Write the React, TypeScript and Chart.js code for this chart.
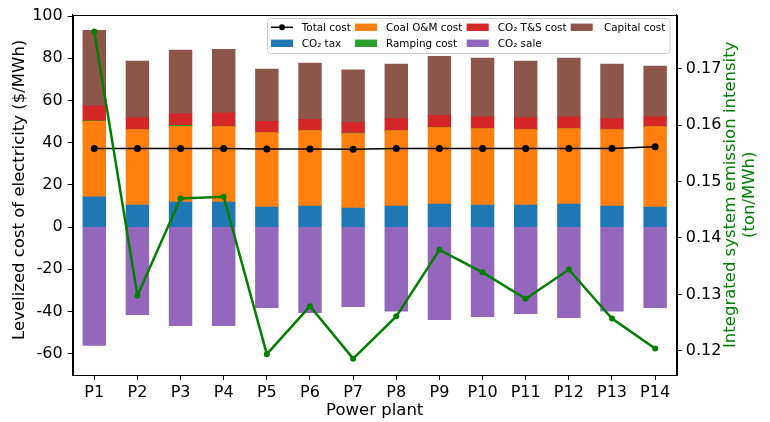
import React, { useEffect, useRef } from "react";
import { Chart, registerables } from "chart.js";

Chart.register(...registerables);

const plants = ["P1", "P2", "P3", "P4", "P5", "P6", "P7", "P8", "P9", "P10", "P11", "P12", "P13", "P14"];
const co2Tax = [14.3, 10.4, 11.8, 11.8, 9.4, 9.9, 8.9, 9.9, 10.8, 10.4, 10.4, 10.8, 9.9, 9.4];
const coalOM = [35.7, 35.7, 35.7, 35.7, 35.3, 35.7, 35.3, 35.7, 36.3, 36.2, 35.7, 35.8, 36.2, 38.1];
const ramping = [0.3, 0, 0.7, 0, 0, 0, 0.3, 0, 0, 0, 0, 0, 0, 0];
const tsCost = [7.1, 5.7, 5.4, 6.6, 5.3, 5.4, 4.9, 5.7, 5.8, 5.6, 5.7, 5.6, 5.2, 4.7];
const capital = [35.8, 26.8, 30.2, 30.1, 24.8, 26.6, 25.0, 25.9, 28.0, 27.8, 26.8, 27.8, 25.9, 24.0];
const co2Sale = [-56.0, -41.4, -46.6, -46.6, -38.1, -40.5, -37.6, -39.8, -43.8, -42.4, -40.9, -42.8, -39.8, -38.1];
const totalCost = [37.3, 37.3, 37.3, 37.3, 37.0, 37.0, 36.9, 37.3, 37.3, 37.3, 37.3, 37.3, 37.3, 38.1];
const emission = [0.1766, 0.1298, 0.147, 0.1473, 0.1194, 0.1279, 0.1186, 0.1261, 0.1379, 0.1339, 0.1292, 0.1344, 0.1257, 0.1204];
const leftTicks = [-60, -40, -20, 0, 20, 40, 60, 80, 100];
const rightTicks = [0.12, 0.13, 0.14, 0.15, 0.16, 0.17];

const C = {
  blue: "#1f77b4",
  orange: "#ff7f0e",
  green: "#2ca02c",
  red: "#d62728",
  purple: "#9467bd",
  brown: "#8c564b",
  line2: "#008000",
};

const FONT = "DejaVu Sans";

const overlay = {
  id: "overlay",
  afterDatasetsDraw(chart: any) {
    const ctx = chart.ctx;
    ctx.save();
    const bx = 267.5, by = 18.5, bw = 402.5, bh = 35;
    const r = 3;
    ctx.beginPath();
    ctx.moveTo(bx + r, by);
    ctx.lineTo(bx + bw - r, by);
    ctx.arcTo(bx + bw, by, bx + bw, by + r, r);
    ctx.lineTo(bx + bw, by + bh - r);
    ctx.arcTo(bx + bw, by + bh, bx + bw - r, by + bh, r);
    ctx.lineTo(bx + r, by + bh);
    ctx.arcTo(bx, by + bh, bx, by + bh - r, r);
    ctx.lineTo(bx, by + r);
    ctx.arcTo(bx, by, bx + r, by, r);
    ctx.closePath();
    ctx.fillStyle = "rgba(255,255,255,0.8)";
    ctx.fill();
    ctx.strokeStyle = "#cccccc";
    ctx.lineWidth = 1;
    ctx.stroke();

    const rows = [27.3, 43.3];
    const cols = [
      { hx: 271, tx: 301.7 },
      { hx: 355, tx: 386 },
      { hx: 466.7, tx: 497.7 },
      { hx: 570.7, tx: 604 },
    ];
    const entries = [
      { label: "Total cost", type: "line", color: "#000000", c: 0, r: 0 },
      { label: "CO₂ tax", type: "patch", color: C.blue, c: 0, r: 1 },
      { label: "Coal O&M cost", type: "patch", color: C.orange, c: 1, r: 0 },
      { label: "Ramping cost", type: "patch", color: C.green, c: 1, r: 1 },
      { label: "CO₂ T&S cost", type: "patch", color: C.red, c: 2, r: 0 },
      { label: "CO₂ sale", type: "patch", color: C.purple, c: 2, r: 1 },
      { label: "Capital cost", type: "patch", color: C.brown, c: 3, r: 0 },
    ];
    ctx.font = `10.4px "${FONT}"`;
    ctx.textBaseline = "middle";
    ctx.textAlign = "left";
    for (const e of entries) {
      const y = rows[e.r];
      const col = cols[e.c];
      if (e.type === "line") {
        ctx.strokeStyle = "#000";
        ctx.lineWidth = 1.5;
        ctx.beginPath();
        ctx.moveTo(col.hx, y);
        ctx.lineTo(col.hx + 22, y);
        ctx.stroke();
        ctx.fillStyle = "#000";
        ctx.beginPath();
        ctx.arc(col.hx + 11, y, 3, 0, Math.PI * 2);
        ctx.fill();
      } else {
        ctx.fillStyle = e.color;
        ctx.fillRect(col.hx, y - 3.7, 22, 7.4);
      }
      ctx.fillStyle = "#000";
      ctx.fillText(e.label, col.tx, y + 0.5);
    }
    ctx.restore();
  },
  afterDraw(chart: any) {
    const ctx = chart.ctx;
    const a = chart.chartArea;
    ctx.save();
    ctx.strokeStyle = "#000";
    ctx.lineWidth = 1;
    ctx.strokeRect(Math.round(a.left) + 0.5, Math.round(a.top) + 0.5, Math.round(a.right) - Math.round(a.left), Math.round(a.bottom) - Math.round(a.top));
    const cy = (a.top + a.bottom) / 2;
    ctx.font = `16.5px "${FONT}"`;
    ctx.textAlign = "center";
    ctx.textBaseline = "middle";
    ctx.fillStyle = "#000";
    ctx.save();
    ctx.translate(20, cy - 5);
    ctx.rotate(-Math.PI / 2);
    ctx.fillText("Levelized cost of electricity ($/MWh)", 0, 0);
    ctx.restore();
    ctx.fillStyle = C.line2;
    ctx.save();
    ctx.translate(731, cy);
    ctx.rotate(-Math.PI / 2);
    ctx.fillText("Integrated system emission intensity", 0, 0);
    ctx.restore();
    ctx.save();
    ctx.translate(750, cy);
    ctx.rotate(-Math.PI / 2);
    ctx.fillText("(ton/MWh)", 0, 0);
    ctx.restore();
    ctx.fillStyle = "#000";
    ctx.textBaseline = "alphabetic";
    ctx.fillText("Power plant", (a.left + a.right) / 2, 415);
    ctx.restore();
  },
};

export default function App() {
  const ref = useRef<HTMLCanvasElement | null>(null);
  useEffect(() => {
    document.body.style.margin = "0";
    if (!ref.current) return;
    Chart.defaults.font.family = FONT;
    const barCommon = { type: "bar" as const, yAxisID: "y", stack: "costs", order: 3, barPercentage: 0.52, categoryPercentage: 1, borderWidth: 0, inflateAmount: 0.5 };
    const chart = new Chart(ref.current, {
      type: "bar",
      data: {
        labels: plants,
        datasets: [
          {
            type: "line",
            label: "Integrated emission",
            data: emission,
            yAxisID: "y2",
            borderColor: C.line2,
            backgroundColor: C.line2,
            borderWidth: 2.5,
            pointRadius: 3,
            pointBorderWidth: 0,
            pointBackgroundColor: C.line2,
            order: 0,
            tension: 0,
          } as any,
          {
            type: "line",
            label: "Total cost",
            data: totalCost,
            yAxisID: "y",
            stack: "total",
            borderColor: "#000",
            backgroundColor: "#000",
            borderWidth: 1.5,
            pointRadius: 3.5,
            pointBorderWidth: 0,
            pointBackgroundColor: "#000",
            order: 1,
            tension: 0,
          } as any,
          { ...barCommon, label: "CO₂ tax", data: co2Tax, backgroundColor: C.blue },
          { ...barCommon, label: "Coal O&M cost", data: coalOM, backgroundColor: C.orange },
          { ...barCommon, label: "Ramping cost", data: ramping, backgroundColor: C.green },
          { ...barCommon, label: "CO₂ T&S cost", data: tsCost, backgroundColor: C.red },
          { ...barCommon, label: "Capital cost", data: capital, backgroundColor: C.brown },
          { ...barCommon, label: "CO₂ sale", data: co2Sale, backgroundColor: C.purple },
        ] as any,
      },
      options: {
        responsive: false,
        animation: false,
        layout: { padding: { top: 12, left: 0, right: 0, bottom: 0 } },
        plugins: { legend: { display: false }, tooltip: { enabled: false } },
        scales: {
          x: {
            stacked: true,
            offset: true,
            grid: { offset: false, drawOnChartArea: false, tickLength: 5, color: "#000" },
            border: { display: true, color: "#000" },
            ticks: { color: "#000", font: { size: 16 }, padding: 3, maxRotation: 0 },
            afterFit: (s: any) => { s.height = 47; },
          },
          y: {
            type: "linear",
            position: "left",
            stacked: true,
            min: -70.1,
            max: 100.7,
            afterBuildTicks: (s: any) => { s.ticks = leftTicks.map((v) => ({ value: v })); },
            grid: { drawOnChartArea: false, tickLength: 5, color: "#000" },
            border: { display: true, color: "#000" },
            ticks: { color: "#000", font: { size: 16 }, padding: 5, callback: (v: any) => String(v) },
            afterFit: (s: any) => { s.width = 72.7; },
          },
          y2: {
            type: "linear",
            position: "right",
            min: 0.1157,
            max: 0.1796,
            afterBuildTicks: (s: any) => { s.ticks = rightTicks.map((v) => ({ value: v })); },
            grid: { drawOnChartArea: false, tickLength: 5, color: "#000" },
            border: { display: true, color: "#000" },
            ticks: { color: "#000", font: { size: 16 }, padding: 4, callback: (v: any) => Number(v).toFixed(2) },
            afterFit: (s: any) => { s.width = 93.3; },
          },
        },
      } as any,
      plugins: [overlay],
    });
    return () => chart.destroy();
  }, []);
  return <canvas ref={ref} width={770} height={422} style={{ display: "block", width: 770, height: 422 }} />;
}
